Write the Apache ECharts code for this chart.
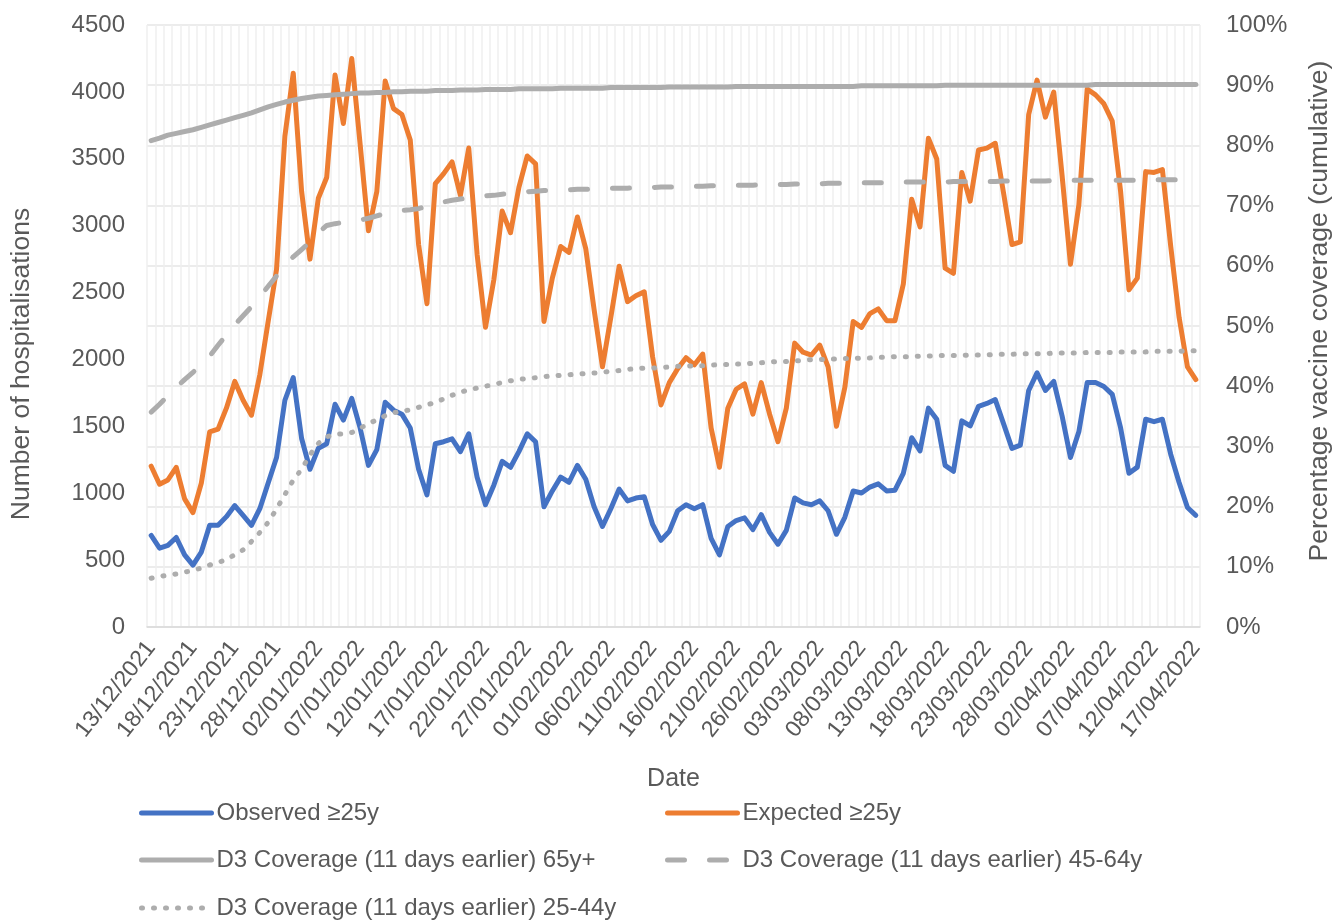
<!DOCTYPE html>
<html>
<head>
<meta charset="utf-8">
<script src="https://cdn.jsdelivr.net/npm/echarts@6/dist/echarts.min.js"></script>
<style>
html, body { margin: 0; padding: 0; background: #fff; }
#chart { width: 1341px; height: 920px; }
</style>
</head>
<body>
<div id="chart"></div>
<script>
// 日期：13/12/2021 - 17/04/2022，每天一个
var dates = [];
(function () {
  var d = new Date(Date.UTC(2021, 11, 13));
  for (var i = 0; i < 126; i++) {
    var dd = ('0' + d.getUTCDate()).slice(-2);
    var mm = ('0' + (d.getUTCMonth() + 1)).slice(-2);
    dates.push(dd + '/' + mm + '/' + d.getUTCFullYear());
    d.setUTCDate(d.getUTCDate() + 1);
  }
})();

var observed = [
  684, 589, 610, 669, 539, 463, 560, 760, 760, 825,
  908, 834, 760, 884, 1076, 1267, 1695, 1865, 1409, 1179,
  1335, 1370, 1665, 1547, 1709, 1488, 1208, 1326, 1680, 1621,
  1591, 1488, 1179, 987, 1370, 1385, 1406, 1311, 1444, 1120,
  914, 1060, 1238, 1194, 1311, 1444, 1385, 899, 1017, 1120,
  1082, 1208, 1105, 899, 751, 884, 1031, 943, 964, 973,
  766, 648, 715, 869, 914, 884, 914, 663, 539, 751,
  796, 816, 728, 840, 707, 619, 722, 964, 928, 914,
  943, 869, 693, 820, 1017, 1002, 1046, 1070, 1017, 1023,
  1149, 1415, 1317, 1636, 1553, 1208, 1164, 1541, 1503, 1650,
  1671, 1700, 1518, 1335, 1360, 1768, 1900, 1768, 1836, 1577,
  1267, 1459, 1827, 1827, 1798, 1739, 1488, 1149, 1195, 1553,
  1535, 1553, 1290, 1080, 893, 835
];

var expected = [
  1202, 1067, 1099, 1193, 958, 855, 1076, 1459, 1479, 1636,
  1836, 1695, 1583, 1886, 2284, 2673, 3669, 4140, 3256, 2750,
  3205, 3360, 4126, 3764, 4250, 3610, 2962, 3256, 4082, 3875,
  3831, 3640, 2859, 2417, 3315, 3389, 3477, 3227, 3580, 2785,
  2240, 2595, 3109, 2947, 3286, 3521, 3462, 2284, 2608, 2844,
  2800, 3065, 2829, 2373, 1945, 2314, 2697, 2432, 2476, 2505,
  2019, 1660, 1827, 1930, 2013, 1960, 2040, 1488, 1194, 1636,
  1777, 1818, 1591, 1827, 1591, 1385, 1636, 2122, 2054, 2033,
  2107, 1945, 1500, 1790, 2284, 2240, 2343, 2378, 2290, 2290,
  2564, 3197, 2991, 3654, 3498, 2682, 2644, 3398, 3183, 3566,
  3580, 3616, 3242, 2859, 2879, 3831, 4088, 3811, 3999, 3374,
  2712, 3153, 4022, 3978, 3911, 3781, 3256, 2520, 2608, 3404,
  3398, 3419, 2844, 2314, 1945, 1850
];

// 覆盖率 (%)
var cov65 = [
  80.8, 81.2, 81.7, 82.0, 82.3, 82.6, 83.0, 83.4, 83.8, 84.2,
  84.6, 85.0, 85.4, 85.9, 86.4, 86.8, 87.2, 87.5, 87.8, 88.0,
  88.2, 88.3, 88.4, 88.5, 88.6, 88.7, 88.7, 88.8, 88.8, 88.9,
  88.9, 89.0, 89.0, 89.0, 89.1, 89.1, 89.1, 89.2, 89.2, 89.2,
  89.3, 89.3, 89.3, 89.3, 89.4, 89.4, 89.4, 89.4, 89.4, 89.5,
  89.5, 89.5, 89.5, 89.5, 89.5, 89.6, 89.6, 89.6, 89.6, 89.6,
  89.6, 89.6, 89.7, 89.7, 89.7, 89.7, 89.7, 89.7, 89.7, 89.7,
  89.8, 89.8, 89.8, 89.8, 89.8, 89.8, 89.8, 89.8, 89.8, 89.8,
  89.8, 89.8, 89.8, 89.8, 89.8, 89.9, 89.9, 89.9, 89.9, 89.9,
  89.9, 89.9, 89.9, 89.9, 89.9, 90.0, 90.0, 90.0, 90.0, 90.0,
  90.0, 90.0, 90.0, 90.0, 90.0, 90.0, 90.0, 90.0, 90.0, 90.0,
  90.0, 90.0, 90.0, 90.1, 90.1, 90.1, 90.1, 90.1, 90.1, 90.1,
  90.1, 90.1, 90.1, 90.1, 90.1, 90.1
];

var cov45 = [
  35.7, 37.0, 38.4, 39.8, 41.1, 42.3, 43.6, 45.0, 46.8, 48.5,
  50.2, 51.7, 53.2, 54.9, 56.6, 58.3, 60.0, 61.5, 62.7, 63.9,
  65.5, 66.7, 67.0, 67.2, 67.4, 67.6, 67.9, 68.3, 68.7, 69.0,
  69.2, 69.3, 69.5, 69.9, 70.3, 70.6, 70.9, 71.1, 71.3, 71.5,
  71.6, 71.7, 71.9, 72.0, 72.2, 72.3, 72.4, 72.5, 72.5, 72.6,
  72.6, 72.7, 72.7, 72.8, 72.8, 72.9, 72.9, 72.9, 73.0, 73.0,
  73.0, 73.1, 73.1, 73.1, 73.2, 73.2, 73.2, 73.3, 73.3, 73.3,
  73.4, 73.4, 73.4, 73.5, 73.5, 73.5, 73.5, 73.6, 73.6, 73.6,
  73.6, 73.7, 73.7, 73.7, 73.7, 73.8, 73.8, 73.8, 73.8, 73.8,
  73.9, 73.9, 73.9, 73.9, 73.9, 73.9, 74.0, 74.0, 74.0, 74.0,
  74.0, 74.0, 74.1, 74.1, 74.1, 74.1, 74.1, 74.1, 74.2, 74.2,
  74.2, 74.2, 74.2, 74.2, 74.2, 74.2, 74.2, 74.2, 74.2, 74.2,
  74.3, 74.3, 74.3, 74.3, 74.3, 74.3
];

var cov25 = [
  8.1, 8.4, 8.6, 8.8, 9.1, 9.4, 9.8, 10.3, 10.7, 11.2,
  12.0, 12.8, 14.2, 15.7, 17.4, 19.6, 22.0, 24.4, 26.2, 28.6,
  30.5, 31.6, 32.0, 32.1, 32.3, 33.0, 33.8, 34.4, 35.1, 35.6,
  35.8, 36.1, 36.5, 36.9, 37.3, 37.9, 38.5, 39.0, 39.4, 39.7,
  40.0, 40.3, 40.6, 40.9, 41.1, 41.3, 41.4, 41.6, 41.7, 41.8,
  41.9, 42.0, 42.1, 42.2, 42.3, 42.5, 42.6, 42.8, 42.9, 43.0,
  43.0, 43.1, 43.2, 43.3, 43.3, 43.4, 43.4, 43.5, 43.6, 43.6,
  43.7, 43.7, 43.8, 43.9, 44.0, 44.1, 44.1, 44.2, 44.3, 44.4,
  44.4, 44.5, 44.5, 44.6, 44.6, 44.7, 44.7, 44.8, 44.8, 44.9,
  44.9, 44.9, 45.0, 45.0, 45.1, 45.1, 45.1, 45.1, 45.2, 45.2,
  45.2, 45.3, 45.3, 45.3, 45.4, 45.4, 45.4, 45.4, 45.5, 45.5,
  45.5, 45.5, 45.6, 45.6, 45.6, 45.6, 45.7, 45.7, 45.7, 45.7,
  45.8, 45.8, 45.8, 45.8, 45.9, 45.9
];

var FONT = '"Liberation Sans", Arial, sans-serif';
var TXT = '#595959';
var GREY = '#ADADAD';

var names = [
  'Observed ≥25y',
  'Expected ≥25y',
  'D3 Coverage (11 days earlier) 65y+',
  'D3 Coverage (11 days earlier) 45-64y',
  'D3 Coverage (11 days earlier) 25-44y'
];

function legendAt(name, left, top) {
  return {
    data: [name],
    left: left,
    top: top,
    padding: 0,
    itemWidth: 70,
    itemHeight: 16,
    itemStyle: { opacity: 0 },
    lineStyle: { width: 5 },
    textStyle: { fontSize: 24, color: TXT, fontFamily: FONT }
  };
}

var chart = echarts.init(document.getElementById('chart'));
var option = {
  animation: false,
  backgroundColor: '#fff',
  textStyle: { fontFamily: FONT },
  grid: { left: 147, right: 135, top: 25, bottom: 293 },
  legend: [
    legendAt(names[0], 139, 801),
    legendAt(names[1], 665, 801),
    legendAt(names[2], 139, 848),
    legendAt(names[3], 665, 848),
    legendAt(names[4], 139, 896)
  ],
  xAxis: {
    type: 'category',
    data: dates,
    boundaryGap: true,
    name: 'Date',
    nameLocation: 'middle',
    nameGap: 140,
    nameTextStyle: { fontSize: 25, color: TXT, fontFamily: FONT },
    axisLine: { lineStyle: { color: '#D9D9D9', width: 1.5 } },
    axisTick: { interval: 4, length: 6, lineStyle: { color: '#D9D9D9', width: 1.5 } },
    axisLabel: { interval: 4, rotate: 52, fontSize: 23, color: TXT, margin: 17, fontFamily: FONT },
    splitLine: { show: true, interval: 0, lineStyle: { color: '#EFEFEF', width: 1.5 } }
  },
  yAxis: [
    {
      type: 'value',
      min: 0, max: 4500, interval: 500,
      name: 'Number of hospitalisations',
      nameLocation: 'middle',
      nameRotate: 90,
      nameGap: 112,
      nameTextStyle: { fontSize: 26.5, color: TXT, fontFamily: FONT, padding: [0, 76, 0, 0] },
      axisLine: { show: false },
      axisTick: { show: false },
      axisLabel: { fontSize: 24, color: TXT, margin: 22, fontFamily: FONT,
        formatter: function (v) { return String(v); } },
      splitLine: { show: false }
    },
    {
      type: 'value',
      position: 'right',
      min: 0, max: 100, interval: 10,
      name: 'Percentage vaccine coverage (cumulative)',
      nameLocation: 'middle',
      nameRotate: 90,
      nameGap: 106,
      nameTextStyle: { fontSize: 26.5, color: TXT, fontFamily: FONT, padding: [0, 0, 0, 30] },
      axisLine: { show: false },
      axisTick: { show: false },
      axisLabel: { fontSize: 24, color: TXT, margin: 26, fontFamily: FONT, formatter: '{value}%' },
      splitLine: { show: true, lineStyle: { color: '#E6E6E6', width: 1.5 } }
    }
  ],
  series: [
    {
      name: names[0], type: 'line', yAxisIndex: 0, data: observed,
      symbol: 'none', color: '#4472C4',
      lineStyle: { width: 5, color: '#4472C4', join: 'round', cap: 'round' }
    },
    {
      name: names[1], type: 'line', yAxisIndex: 0, data: expected,
      symbol: 'none', color: '#ED7D31',
      lineStyle: { width: 5, color: '#ED7D31', join: 'round', cap: 'round' }
    },
    {
      name: names[2], type: 'line', yAxisIndex: 1, data: cov65,
      symbol: 'none', color: GREY,
      lineStyle: { width: 5, color: GREY, cap: 'round' }
    },
    {
      name: names[3], type: 'line', yAxisIndex: 1, data: cov45,
      symbol: 'none', color: GREY,
      lineStyle: { width: 5, color: GREY, type: [17, 25], cap: 'round' }
    },
    {
      name: names[4], type: 'line', yAxisIndex: 1, data: cov25,
      symbol: 'none', color: GREY,
      lineStyle: { width: 5, color: GREY, type: [1, 11], cap: 'round' }
    }
  ]
};
chart.setOption(option);
</script>
</body>
</html>
